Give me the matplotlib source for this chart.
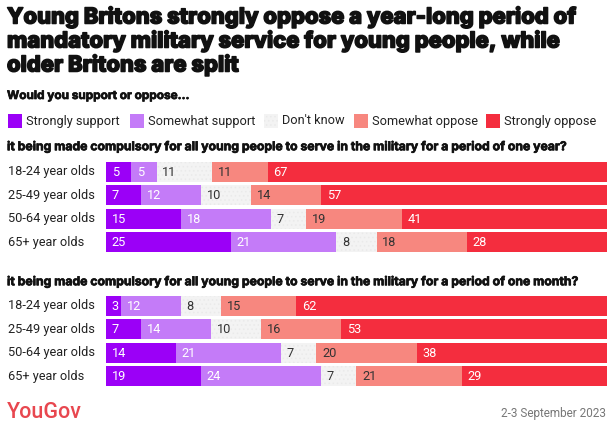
import matplotlib.pyplot as plt
import matplotlib.patheffects as pe
from matplotlib.patches import Rectangle
from matplotlib.transforms import blended_transform_factory

plt.rcParams['font.family'] = ['Roboto', 'DejaVu Sans']
plt.rcParams['hatch.linewidth'] = 0.6

# Data
groups = ['18-24 year olds', '25-49 year olds', '50-64 year olds', '65+ year olds']
answers = ['Strongly support', 'Somewhat support', "Don't know", 'Somewhat oppose', 'Strongly oppose']
one_year = [
    [5, 5, 11, 11, 67],
    [7, 12, 10, 14, 57],
    [15, 18, 7, 19, 41],
    [25, 21, 8, 18, 28],
]
one_month = [
    [3, 12, 8, 15, 62],
    [7, 14, 10, 16, 53],
    [14, 21, 7, 20, 38],
    [19, 24, 7, 21, 29],
]
q_year = 'it being made compulsory for all young people to serve in the military for a period of one year?'
q_month = 'it being made compulsory for all young people to serve in the military for a period of one month?'

colors = ['#9b00f7', '#c47bf8', '#f3f3f3', '#f7877f', '#f42d3e']
text_colors = ['white', 'white', '#333333', '#333333', 'white']
dot_color = '#eaeaea'

W, H = 613, 428
fig = plt.figure(figsize=(W / 100, H / 100), dpi=100)


def px(x, y):
    return x / W, 1 - y / H


def draw_group(data, top, bottom):
    ax = fig.add_axes([106 / W, 1 - bottom / H, (607 - 106) / W, (bottom - top) / H])
    label_tr = blended_transform_factory(fig.transFigure, ax.transData)
    for i, row in enumerate(data):
        total = sum(row)
        left = 0
        for j, v in enumerate(row):
            w = v / total * 100
            if j == 2:
                ax.barh(i, w, left=left, height=0.85, color=colors[j],
                        hatch='....', edgecolor=dot_color, linewidth=0)
            else:
                ax.barh(i, w, left=left, height=0.85, color=colors[j], linewidth=0)
            ax.annotate(str(v), (left, i), xytext=(4, -0.5), textcoords='offset points',
                        va='center', ha='left', fontsize=9.2, color=text_colors[j])
            left += w
        ax.text(8 / W, i, groups[i], transform=label_tr, fontsize=9.2,
                va='center', ha='left', color='#222222')
    ax.set_xlim(0, 100)
    ax.set_ylim(len(data) - 0.5, -0.5)
    ax.axis('off')
    return ax


draw_group(one_year, 160, 254)
draw_group(one_month, 294, 388)

# Title and headings (stroke makes the weight closer to the original heavy face)
title_font = ['Inter', 'DejaVu Sans']
heavy = [pe.withStroke(linewidth=1.1, foreground='#111111')]
semi = [pe.withStroke(linewidth=0.5, foreground='#111111')]
title_lines = ['Young Britons strongly oppose a year-long period of',
               'mandatory military service for young people, while',
               'older Britons are split']
for k, line in enumerate(title_lines):
    fig.text(*px(7, 17 + 24 * k), line, fontsize=15.8, fontweight='heavy', family=title_font,
             va='center', color='#111111', path_effects=heavy)
fig.text(*px(7, 96), 'Would you support or oppose...', fontsize=8.5, fontweight='bold',
         family=title_font, va='center', color='#111111', path_effects=semi)
fig.text(*px(7, 147), q_year, fontsize=8.8, fontweight='bold',
         family=title_font, va='center', color='#111111', path_effects=semi)
fig.text(*px(7, 282), q_month, fontsize=8.8, fontweight='bold',
         family=title_font, va='center', color='#111111', path_effects=semi)

# Legend
leg_x = [8, 130, 264, 354, 486]
for x, lab, c in zip(leg_x, answers, colors):
    if c == colors[2]:
        fig.patches.append(Rectangle(px(x, 128), 14 / W, 14 / H, transform=fig.transFigure,
                                     facecolor=c, edgecolor=dot_color, hatch='....', linewidth=0))
    else:
        fig.patches.append(Rectangle(px(x, 128), 14 / W, 14 / H, transform=fig.transFigure,
                                     facecolor=c, edgecolor='none'))
    fig.text(*px(x + 18, 121), lab, fontsize=9.2, va='center', color='#222222')

# Footer
fig.text(*px(7, 413), 'YouGov', fontsize=15.5, color='#e8474f', va='center', fontweight='medium')
fig.text(*px(606, 413), '2-3 September 2023', fontsize=8.5, color='#777777', va='center', ha='right')

fig.savefig('out.png', dpi=100)
